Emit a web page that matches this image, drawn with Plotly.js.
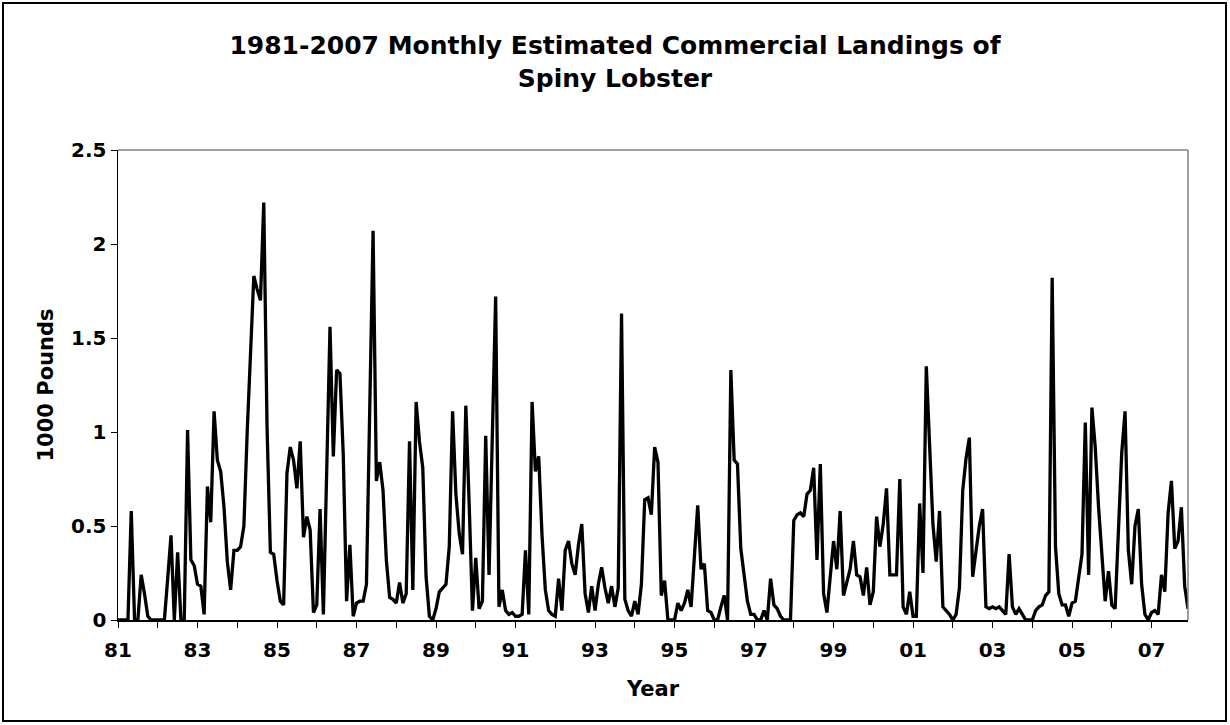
<!DOCTYPE html>
<html>
<head>
<meta charset="utf-8">
<script src="https://cdn.plot.ly/plotly-3.0.1.min.js"></script>
<style>
  html, body { margin: 0; padding: 0; background: #fff; }
  #wrap { position: relative; width: 1230px; height: 725px; }
  #chart { position: absolute; left: 0; top: 0; width: 1230px; height: 725px; }
  #frame { position: absolute; left: 2px; top: 2px; width: 1225px; height: 720px;
           border: 2px solid #000; box-sizing: border-box; pointer-events: none; }
</style>
</head>
<body>
<div id="wrap">
  <div id="chart"></div>
  <div id="frame"></div>
</div>
<script>
// Monthly estimated commercial landings (1000 pounds), Jan 1981 .. Dec 2007
const firstYear = 1981;
const landings = [
  0, 0, 0, 0, 0.58, 0, 0, 0.24, 0.14, 0.02, 0, 0,                 // 1981
  0, 0, 0, 0.22, 0.45, 0, 0.36, 0, 0, 1.01, 0.32, 0.29,            // 1982
  0.19, 0.18, 0.03, 0.71, 0.52, 1.11, 0.85, 0.79, 0.6, 0.31, 0.16, 0.37, // 1983
  0.37, 0.39, 0.5, 1.0, 1.45, 1.83, 1.76, 1.70, 2.22, 1.02, 0.36, 0.35,  // 1984
  0.21, 0.1, 0.08, 0.78, 0.92, 0.85, 0.70, 0.95, 0.44, 0.55, 0.48, 0.04, // 1985
  0.08, 0.59, 0.03, 0.8, 1.56, 0.87, 1.33, 1.31, 0.88, 0.1, 0.40, 0.02,  // 1986
  0.09, 0.1, 0.1, 0.19, 1.1, 2.07, 0.74, 0.84, 0.69, 0.32, 0.12, 0.11,   // 1987
  0.09, 0.2, 0.09, 0.14, 0.95, 0.16, 1.16, 0.95, 0.81, 0.23, 0.02, 0,    // 1988
  0.06, 0.15, 0.17, 0.19, 0.39, 1.11, 0.67, 0.46, 0.35, 1.14, 0.62, 0.05, // 1989
  0.33, 0.06, 0.1, 0.98, 0.24, 1.0, 1.72, 0.07, 0.16, 0.05, 0.03, 0.04,  // 1990
  0.02, 0.02, 0.03, 0.37, 0.03, 1.16, 0.79, 0.87, 0.45, 0.16, 0.05, 0.03, // 1991
  0.02, 0.22, 0.05, 0.37, 0.42, 0.30, 0.24, 0.40, 0.51, 0.14, 0.04, 0.18, // 1992
  0.05, 0.19, 0.28, 0.17, 0.09, 0.18, 0.07, 0.17, 1.63, 0.11, 0.05, 0.02, // 1993
  0.1, 0.03, 0.19, 0.64, 0.65, 0.56, 0.92, 0.84, 0.13, 0.21, 0, 0,       // 1994
  0, 0.09, 0.05, 0.09, 0.16, 0.07, 0.35, 0.61, 0.27, 0.30, 0.05, 0.04,   // 1995
  0, 0, 0.07, 0.13, 0, 1.33, 0.85, 0.83, 0.38, 0.25, 0.1, 0.03,          // 1996
  0.03, 0, 0, 0.05, 0, 0.22, 0.08, 0.06, 0.02, 0, 0, 0,                  // 1997
  0.53, 0.56, 0.57, 0.55, 0.67, 0.69, 0.81, 0.32, 0.83, 0.14, 0.04, 0.24, // 1998
  0.42, 0.27, 0.58, 0.13, 0.21, 0.27, 0.42, 0.24, 0.23, 0.13, 0.28, 0.08, // 1999
  0.15, 0.55, 0.39, 0.51, 0.70, 0.24, 0.24, 0.24, 0.75, 0.07, 0.03, 0.15, // 2000
  0.02, 0.02, 0.62, 0.25, 1.35, 0.9, 0.51, 0.31, 0.58, 0.07, 0.05, 0.03,  // 2001
  0, 0.03, 0.17, 0.69, 0.86, 0.97, 0.23, 0.37, 0.50, 0.59, 0.07, 0.06,    // 2002
  0.07, 0.06, 0.07, 0.05, 0.03, 0.35, 0.07, 0.03, 0.06, 0.03, 0, 0,       // 2003
  0, 0.05, 0.07, 0.08, 0.13, 0.15, 1.82, 0.39, 0.14, 0.08, 0.08, 0.02,    // 2004
  0.09, 0.1, 0.23, 0.35, 1.05, 0.24, 1.13, 0.92, 0.6, 0.32, 0.1, 0.26,    // 2005
  0.08, 0.06, 0.5, 0.89, 1.11, 0.37, 0.19, 0.50, 0.59, 0.19, 0.03, 0,     // 2006
  0.04, 0.05, 0.03, 0.24, 0.15, 0.57, 0.74, 0.38, 0.42, 0.60, 0.18, 0.06  // 2007
];
const yTickValues = [0, 0.5, 1, 1.5, 2, 2.5];
const yTickLabels = ['0', '0.5', '1', '1.5', '2', '2.5'];
const chartTitle = '1981-2007 Monthly Estimated Commercial Landings of<br>Spiny Lobster';
const xTitle = 'Year';
const yTitle = '1000 Pounds';

const nYears = landings.length / 12;
const monthIndex = landings.map((v, i) => i);
const xTickVals = [];
const xTickText = [];
for (let k = 0; k < nYears; k++) {
  xTickVals.push(k * 12);
  xTickText.push(k % 2 === 0 ? String(firstYear + k).slice(2) : '');
}

const fontFamily = 'DejaVu Sans, Verdana, sans-serif';
const boldFont = (size) => ({ family: fontFamily, size: size, color: '#000', weight: 700 });

const trace = {
  x: monthIndex,
  y: landings,
  type: 'scatter',
  mode: 'lines',
  line: { color: '#000', width: 3.3 },
  hoverinfo: 'skip'
};

const layout = {
  width: 1230,
  height: 725,
  margin: { l: 118, r: 42, t: 150, b: 105 },
  paper_bgcolor: '#fff',
  plot_bgcolor: '#fff',
  showlegend: false,
  title: {
    text: chartTitle,
    font: boldFont(25),
    x: 0.5, xanchor: 'center',
    y: 1 - 54 / 725, yanchor: 'middle'
  },
  xaxis: {
    range: [0, landings.length - 1],
    tickmode: 'array',
    tickvals: xTickVals,
    ticktext: xTickText,
    ticks: 'outside', ticklen: 6, tickwidth: 1, tickcolor: '#000',
    ticklabelstandoff: 5,
    showline: true, linecolor: '#000', linewidth: 1.5,
    showgrid: false, zeroline: false,
    tickfont: boldFont(20),
    title: { text: xTitle, font: boldFont(21), standoff: 21 },
    fixedrange: true
  },
  yaxis: {
    range: [0, 2.5],
    tickmode: 'array',
    tickvals: yTickValues,
    ticktext: yTickLabels,
    ticks: 'outside', ticklen: 6, tickwidth: 1, tickcolor: '#000',
    showline: true, linecolor: '#000', linewidth: 1.5,
    showgrid: false, zeroline: false,
    tickfont: boldFont(20),
    title: { text: yTitle, font: boldFont(21), standoff: 11 },
    fixedrange: true
  },
  shapes: [
    { type: 'line', xref: 'paper', yref: 'paper', x0: 0, x1: 1, y0: 1, y1: 1,
      line: { color: '#808080', width: 1.5 } },
    { type: 'line', xref: 'paper', yref: 'paper', x0: 1, x1: 1, y0: 0, y1: 1,
      line: { color: '#808080', width: 1.5 } }
  ]
};

Plotly.newPlot('chart', [trace], layout, { staticPlot: true, displayModeBar: false });
</script>
</body>
</html>
